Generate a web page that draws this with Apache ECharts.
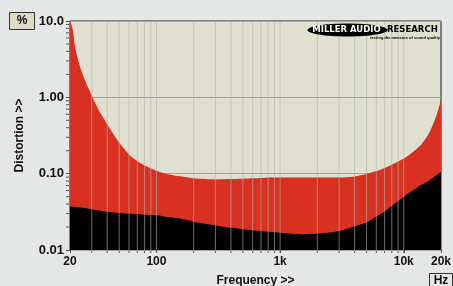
<!DOCTYPE html>
<html>
<head>
<meta charset="utf-8">
<script src="https://cdn.jsdelivr.net/npm/echarts@6/dist/echarts.min.js"></script>
<style>
  html, body { margin: 0; padding: 0; background: #e5e6e6; }
  #chart { width: 453px; height: 286px; }
</style>
</head>
<body>
<div id="chart"></div>
<script>
// frequency points (Hz)
const freqs = [20, 21, 22, 24, 27, 30, 34, 38, 42, 50, 64, 82, 105, 120, 150, 200, 250, 300, 400, 500,
  700, 1000, 1500, 2000, 3000, 4000, 5000, 6000, 7000, 8000, 10000, 12000, 14000, 16000, 18000, 19000, 20000]
// upper curve (red)
const upperPct = [10, 7.9, 4.5, 2.58, 1.53, 1.06, 0.69, 0.51, 0.39, 0.255, 0.162, 0.126, 0.106, 0.1, 0.093, 0.087, 0.085, 0.084, 0.085, 0.086,
  0.088, 0.089, 0.089, 0.089, 0.089, 0.092, 0.099, 0.108, 0.119, 0.131, 0.158, 0.195, 0.247, 0.34, 0.53, 0.69, 0.9]
// lower curve (black)
const lowerPct = [0.037, 0.0368, 0.0366, 0.036, 0.0352, 0.0342, 0.0328, 0.032, 0.0314, 0.0305, 0.0298, 0.029, 0.0283, 0.027, 0.026, 0.0235, 0.022, 0.021, 0.0195, 0.0187,
  0.0177, 0.0168, 0.0161, 0.0163, 0.0177, 0.0205, 0.023, 0.0275, 0.032, 0.038, 0.05, 0.061, 0.072, 0.081, 0.093, 0.099, 0.105]

// grid lines / tick values
const xGridLines = [30, 40, 50, 60, 70, 80, 90, 100, 200, 300, 400, 500, 600, 700, 800, 900, 1000,
  2000, 3000, 4000, 5000, 6000, 7000, 8000, 9000, 10000]
const xLabels = { 20: '20', 100: '100', 1000: '1k', 10000: '10k', 20000: '20k' }
const yMinorTicks = [0.02, 0.03, 0.04, 0.05, 0.06, 0.07, 0.08, 0.09, 0.2, 0.3, 0.4, 0.5, 0.6, 0.7, 0.8, 0.9,
  2, 3, 4, 5, 6, 7, 8, 9]
const yLabels = { 0.01: '0.01', 0.1: '0.10', 1: '1.00', 10: '10.0' }

const font = 'Liberation Sans, Arial, sans-serif'
const logoFont = 'DejaVu Sans, sans-serif'
const chart = echarts.init(document.getElementById('chart'))

chart.setOption({
  animation: false,
  backgroundColor: '#e5e6e6',
  grid: {
    left: 70, top: 21, right: 12, bottom: 36,
    outerBoundsMode: 'none',
    containLabel: false,
    show: true,
    backgroundColor: '#dfe0cf',
    borderColor: '#1a1a1a',
    borderWidth: 1
  },
  xAxis: {
    type: 'log',
    min: 20,
    max: 20000,
    name: 'Frequency >>',
    nameLocation: 'middle',
    nameGap: 25,
    nameTextStyle: { fontFamily: font, fontWeight: 'bold', fontSize: 12, color: '#111' },
    axisLine: { show: false },
    axisTick: { show: true, length: 3, lineStyle: { color: '#555' } },
    splitLine: { show: false },
    axisLabel: {
      showMinLabel: true,
      showMaxLabel: true,
      margin: 6,
      fontFamily: font, fontWeight: 'bold', fontSize: 12, color: '#111',
      formatter: v => xLabels[Math.round(v)] || ''
    }
  },
  yAxis: {
    type: 'log',
    min: 0.01,
    max: 10,
    name: 'Distortion >>',
    nameLocation: 'middle',
    nameGap: 44,
    nameTextStyle: { fontFamily: font, fontWeight: 'bold', fontSize: 12, color: '#111' },
    axisLine: { show: false },
    axisTick: { show: true, length: 4, lineStyle: { color: '#555' } },
    splitLine: { show: true, lineStyle: { color: '#a3a39c', width: 1 } },
    axisLabel: {
      margin: 6,
      fontFamily: font, fontWeight: 'bold', fontSize: 13, color: '#111',
      formatter: v => {
        const k = Object.keys(yLabels).find(t => Math.abs(Math.log10(v) - Math.log10(+t)) < 0.01)
        return k ? yLabels[k] : ''
      }
    }
  },
  series: [
    {
      type: 'line',
      data: freqs.map((f, i) => [f, upperPct[i]]),
      smooth: 0.3,
      symbol: 'none',
      lineStyle: { width: 0 },
      areaStyle: { color: '#d93121', opacity: 1, origin: 'start' },
      z: 2
    },
    {
      type: 'line',
      data: freqs.map((f, i) => [f, lowerPct[i]]),
      smooth: 0.3,
      symbol: 'none',
      lineStyle: { width: 0 },
      areaStyle: { color: '#000000', opacity: 1, origin: 'start' },
      z: 3
    },
    {
      // vertical grid lines drawn over the areas, with small ticks below the axis
      type: 'custom',
      clip: false,
      z: 4,
      data: xGridLines.map(f => [f, 0.01]),
      renderItem: (params, api) => {
        const bottom = api.coord([api.value(0), 0.01])
        const top = api.coord([api.value(0), 10])
        return {
          type: 'group',
          children: [
            {
              type: 'line',
              shape: { x1: bottom[0], y1: top[1] + 1, x2: bottom[0], y2: bottom[1] },
              style: { stroke: 'rgba(180,180,172,0.6)', lineWidth: 1 }
            },
            {
              type: 'line',
              shape: { x1: bottom[0], y1: bottom[1] + 1, x2: bottom[0], y2: bottom[1] + 3 },
              style: { stroke: '#555', lineWidth: 1 }
            }
          ]
        }
      }
    },
    {
      // minor ticks on the left of the y axis
      type: 'custom',
      clip: false,
      z: 4,
      data: yMinorTicks.map(v => [20, v]),
      renderItem: (params, api) => {
        const p = api.coord([20, api.value(1)])
        return {
          type: 'line',
          shape: { x1: p[0] - 4, y1: p[1], x2: p[0] - 1, y2: p[1] },
          style: { stroke: '#555', lineWidth: 1 }
        }
      }
    }
  ],
  graphic: [
    // % box
    {
      type: 'rect',
      shape: { x: 9.5, y: 12.5, width: 25, height: 17 },
      style: { fill: '#dcdcc6', stroke: '#333', lineWidth: 1 }
    },
    {
      type: 'text',
      x: 22, y: 21,
      style: { text: '%', font: 'bold 12px ' + font, fill: '#111', align: 'center', verticalAlign: 'middle' }
    },
    // Hz box
    {
      type: 'rect',
      shape: { x: 429.5, y: 273.5, width: 23, height: 14 },
      style: { fill: '#e5e6e6', stroke: '#333', lineWidth: 1 }
    },
    {
      type: 'text',
      x: 441, y: 281,
      style: { text: 'Hz', font: 'bold 12px ' + font, fill: '#111', align: 'center', verticalAlign: 'middle' }
    },
    // logo
    {
      type: 'ellipse',
      z: 10,
      shape: { cx: 347.5, cy: 30, rx: 40, ry: 6.5 },
      style: { fill: '#000' }
    },
    {
      type: 'text',
      z: 11,
      x: 346.5, y: 30,
      style: { text: 'MILLER AUDIO', font: 'bold 8.5px ' + logoFont, fill: '#fff', align: 'center', verticalAlign: 'middle' }
    },
    {
      type: 'text',
      z: 11,
      x: 387, y: 30,
      style: { text: 'RESEARCH', font: 'bold 8.5px ' + logoFont, fill: '#000', align: 'left', verticalAlign: 'middle' }
    },
    {
      type: 'text',
      z: 11,
      x: 440, y: 37.5,
      style: { text: 'testing the measure of sound quality', font: 'bold 4px ' + font, fill: '#000', align: 'right', verticalAlign: 'middle' }
    }
  ]
})
</script>
</body>
</html>
